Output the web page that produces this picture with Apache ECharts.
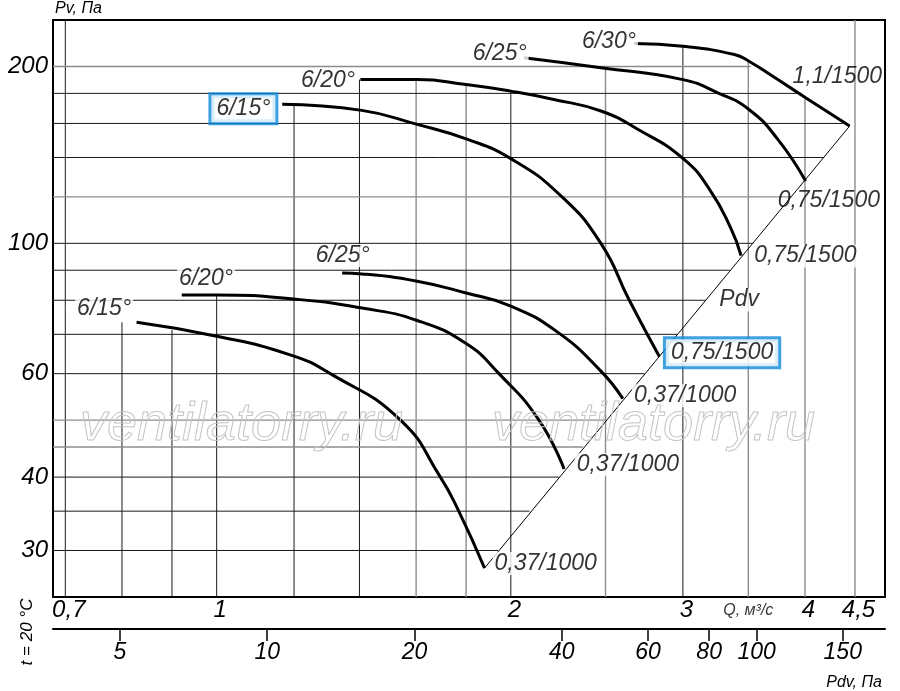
<!DOCTYPE html>
<html><head><meta charset="utf-8">
<script src="https://cdn.jsdelivr.net/npm/echarts@6.0.0/dist/echarts.min.js"></script>
<style>html,body{margin:0;padding:0;background:#fff}#c{width:900px;height:691px}</style>
</head><body><div id="c"></div>
<script>
// ---- axis ticks / labels ----
const qTicks = [0.7, 1, 2, 3, 4, 4.5];
const pvTicks = [30, 40, 60, 100, 200];
const pdvTicks = [5, 10, 20, 40, 60, 80, 100, 150];

// ---- grid lines (value and extent where each line stops) ----
const qGrid = [0.7, 0.8, 0.9, 1, 1.2, 1.4, 1.6, 1.8, 2, 2.5, 3, 3.5, 4, 4.5];
const qGridTopPv = [240, 73.4, 71.2, 81.7, 172.4, 190, 190, 186.4, 181.6, 199, 216.5, 204, 177, 240];
const pvGrid = [200, 180, 160, 140, 120, 100, 90, 80, 70, 60, 50, 45, 40, 35, 30];
const pvGridEndQ = [3.52, 3.97, 4.38, 4.18, 3.87, 3.54, 3.35, 3.16, 2.96, 2.74, 2.5, 2.37, 2.24, 2.09, 1.94];

// ---- fan curves [Q m3/s, Pv Pa] ----
const curve15_1500 = [[1.167,172.5],[1.408,168.4],[1.604,159.4],[1.8,150.6],[2.0,139.4],[2.25,120.5],[2.473,100],[2.644,80],[2.838,64.2]];
const curve20_1500 = [[1.403,190.0],[1.604,190.0],[1.8,186.4],[2.0,181.6],[2.213,175.8],[2.473,168.0],[2.697,156.4],[3.0,139.5],[3.2,123],[3.361,105.8],[3.441,95.3]];
const curve25_1500 = [[2.063,206.9],[2.473,199.0],[3.0,190.0],[3.257,180.4],[3.505,169.0],[3.752,150.3],[4.006,127.7]];
const curve30_1500 = [[2.675,218.8],[3.0,216.5],[3.387,209.6],[3.505,204.2],[3.752,190.0],[4.006,177.0],[4.444,158.4]];
const curve15_1000 = [[0.828,73.4],[1.0,69.5],[1.189,64.6],[1.307,60],[1.542,50],[1.694,40],[1.769,35],[1.88,28.0]];
const curve20_1000 = [[0.921,81.7],[1.0,81.7],[1.217,80.2],[1.408,77.6],[1.604,73.9],[1.8,67.5],[1.945,60],[2.137,50],[2.267,41.3]];
const curve25_1000 = [[1.344,89.0],[1.408,88.7],[1.604,86.2],[1.8,82.3],[2.0,78.2],[2.233,70.6],[2.473,60.6],[2.604,54.4]];
const pdvLine = [[1.88,28.0],[4.444,158.4]];

// ---- annotations ----
const labelText = ['6/20°','6/25°','6/30°','1,1/1500','0,75/1500','0,75/1500','Pdv','0,37/1000','0,37/1000','0,37/1000','6/15°','6/20°','6/25°'];
const labelQ    = [1.300, 1.948, 2.520, 4.317, 4.231, 4.003, 3.425, 3.016, 2.635, 2.171, 0.767, 0.975, 1.346];
const labelPv   = [189.3, 210.4, 220.6, 192.3, 118.2, 95.2, 80.1, 55.0, 42.0, 28.5, 77.5, 87.0, 95.3];
const boxText = ['6/15°', '0,75/1500'];
const boxQ    = [1.065, 3.290];
const boxPv   = [169.4, 65.1];
const qUnitText = 'Q, м³/с';
const qUnitAt = 3.5;

// ---- styling config ----
const Q_MIN = 0.68, Q_MAX = 4.83, PV_MIN = 25, PV_MAX = 240, PDV_MIN = 3.65, PDV_MAX = 183;
const FONT = "'Liberation Sans', Arial, sans-serif";
const clearBgIdx = [3, 4];
const greyQ = [1.6, 1.8, 2.5, 3.5, 4, 4.5];
const greyPv = [200, 120, 50, 45];

function fmt(v) { return String(+(+v).toFixed(3)).replace('.', ','); }
const txt = (size) => ({ fontSize: size, fontStyle: 'italic', fontFamily: FONT, color: '#000' });
const gridLine = (data, grey) => ({ type: 'line', data: data, symbol: 'none', silent: true, z: 1, animation: false,
  lineStyle: grey ? { color: '#8c8c8c', width: 1.4 } : { color: '#1a1a1a', width: 1 } });

const series = [];
qGrid.forEach((q, i) => series.push(gridLine([[q, PV_MIN], [q, qGridTopPv[i]]], greyQ.includes(q))));
pvGrid.forEach((p, i) => series.push(gridLine([[Q_MIN, p], [pvGridEndQ[i], p]], greyPv.includes(p))));

series.push({ type: 'line', data: pdvLine, symbol: 'none', silent: true, z: 2, animation: false,
  lineStyle: { color: '#000', width: 1 } });

[curve15_1500, curve20_1500, curve25_1500, curve30_1500, curve15_1000, curve20_1000, curve25_1000].forEach(c =>
  series.push({ type: 'line', data: c, smooth: 0.5, symbol: 'none', silent: true, z: 3, animation: false,
    lineStyle: { color: '#000', width: 3 } }));

series.push({ type: 'scatter', symbolSize: 0, silent: true, z: 10, animation: false,
  data: labelText.map((t, i) => ({ value: [labelQ[i], labelPv[i]], name: t,
    label: clearBgIdx.includes(i) ? { backgroundColor: 'transparent' } : {} })),
  label: Object.assign({ show: true, position: 'inside', formatter: '{b}', backgroundColor: '#fff', padding: [0, 2] }, txt(23)) });

series.push({ type: 'scatter', symbolSize: 0, silent: true, z: 11, animation: false,
  data: boxText.map((t, i) => ({ value: [boxQ[i], boxPv[i]], name: t })),
  label: Object.assign({ show: true, position: 'inside', formatter: '{b}', backgroundColor: '#fff',
    borderColor: '#0e8ad9', borderWidth: 3, padding: [2, 5, 2, 5] }, txt(23)) });

series.push({ type: 'scatter', symbolSize: 0, silent: true, z: 10, animation: false,
  data: [{ value: [qUnitAt, PV_MIN], name: qUnitText }],
  label: Object.assign({ show: true, position: 'bottom', distance: 6, formatter: '{b}' }, txt(16)) });

const option = {
  backgroundColor: '#fff',
  animation: false,
  grid: { left: 53, top: 20, width: 832, height: 579, show: true, borderColor: '#000', borderWidth: 2 },
  xAxis: [
    { type: 'log', logBase: 10, min: Q_MIN, max: Q_MAX, gridIndex: 0,
      axisLine: { show: false }, axisTick: { show: false }, splitLine: { show: false },
      axisLabel: Object.assign({ customValues: qTicks, margin: 1, padding: [0, 0, 0, 7], formatter: fmt }, txt(24)) },
    { type: 'log', logBase: 10, min: PDV_MIN, max: PDV_MAX, gridIndex: 0, position: 'bottom', offset: 32,
      axisLine: { show: true, onZero: false, lineStyle: { color: '#000', width: 2 } },
      axisTick: { show: true, customValues: pdvTicks, length: 12, lineStyle: { color: '#000', width: 1.5 } },
      splitLine: { show: false },
      axisLabel: Object.assign({ customValues: pdvTicks, margin: 12, formatter: fmt }, txt(23)),
      name: 'Pdv, Па', nameLocation: 'end', nameGap: -3,
      nameTextStyle: Object.assign({ align: 'right', verticalAlign: 'top', padding: [46, 0, 0, 0] }, txt(16)) }
  ],
  yAxis: [
    { type: 'log', logBase: 10, min: PV_MIN, max: PV_MAX,
      axisLine: { show: false }, axisTick: { show: false }, splitLine: { show: false },
      axisLabel: Object.assign({ customValues: pvTicks, margin: 5, formatter: fmt }, txt(24)),
      name: 'Pv, Па', nameLocation: 'end', nameGap: 3,
      nameTextStyle: Object.assign({ align: 'left', padding: [0, 0, 0, 2] }, txt(16)) }
  ],
  graphic: [
    { type: 'text', x: 27, y: 632, rotation: Math.PI / 2, z: 100,
      style: { text: 't = 20 °C', font: 'italic 17px "Liberation Sans"', fill: '#000', align: 'center', verticalAlign: 'middle' } },
    { type: 'text', x: 80, y: 425, z: 100, silent: true,
      style: { text: 'ventilatorry.ru', font: 'italic 54px "Liberation Sans"', fill: 'rgba(255,255,255,0)', stroke: '#c4c4c4', lineWidth: 1, verticalAlign: 'middle' } },
    { type: 'text', x: 492, y: 425, z: 100, silent: true,
      style: { text: 'ventilatorry.ru', font: 'italic 54px "Liberation Sans"', fill: 'rgba(255,255,255,0)', stroke: '#c4c4c4', lineWidth: 1, verticalAlign: 'middle' } }
  ],
  series: series
};
const chart = echarts.init(document.getElementById('c'), null, { renderer: 'canvas' });
chart.setOption(option);
</script></body></html>
